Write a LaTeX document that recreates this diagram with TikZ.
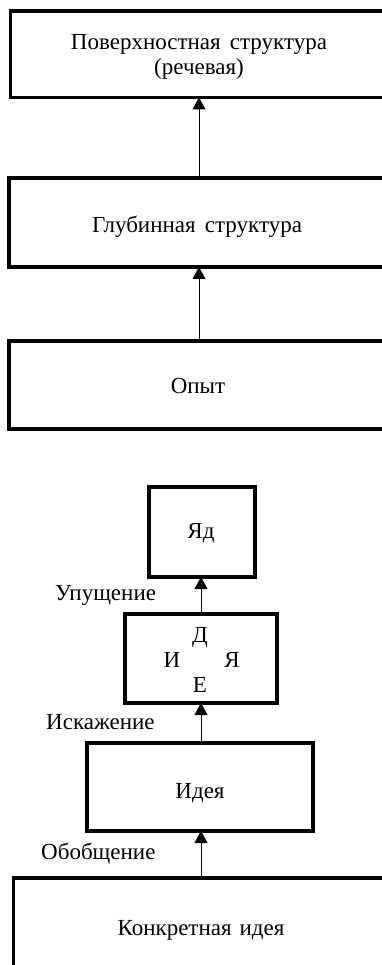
\documentclass[tikz,border=0pt]{standalone}
\usepackage{fontspec}
\setmainfont{Liberation Serif}
\usetikzlibrary{arrows.meta}
\begin{document}
\begin{tikzpicture}[x=1pt,y=-1pt,
  box/.style={draw,line width=3.2pt,rectangle,inner sep=0pt,outer sep=0pt},
  lbl/.style={anchor=base,inner sep=0pt,font=\fontsize{23}{25}\selectfont},
  link/.style={line width=1pt,-{Triangle[width=13pt,length=12pt]}}]
\path[use as bounding box] (0,0) rectangle (382,965);
\clip (0,0) rectangle (382,965);
% upper chain
\node[box,minimum width=377pt,minimum height=86.5pt] (b1) at (199,54.25) {};
\node[box,minimum width=380pt,minimum height=89pt] (b2) at (199,222.5) {};
\node[box,minimum width=380pt,minimum height=88pt] (b3) at (199,385) {};
\node[lbl] (t1a) at (199,50) {Поверхностная\hspace{0.15em} структура};
\node[lbl] (t1b) at (199,75) {(речевая)};
\node[lbl] (t2) at (197,233) {Глубинная\hspace{0.15em} структура};
\node[lbl] (t3) at (198,393) {Опыт};
\draw[link] (b3.north) -- (b3.north |- b2.south);
\draw[link] (b2.north) -- (b2.north |- b1.south);
% lower chain
\node[box,minimum width=106pt,minimum height=90pt] (b4) at (202,532) {};
\node[box,minimum width=152pt,minimum height=89pt] (b5) at (201,658.5) {};
\node[box,minimum width=226pt,minimum height=88pt] (b6) at (200,787) {};
\node[box,minimum width=375pt,minimum height=100pt] (b7) at (201,928) {};
\node[lbl] (t4) at (201,538) {Яд};
\node[lbl] (t5d) at (200,642) {Д};
\node[lbl] (t5i) at (172,667) {И};
\node[lbl] (t5y) at (232,667) {Я};
\node[lbl] (t5e) at (200,692) {Е};
\node[lbl] (t6) at (200,798) {Идея};
\node[lbl] (t7) at (201,935) {Конкретная\hspace{0.1em} идея};
\coordinate (a4) at (201,0);
\draw[link] (b5.north -| a4) -- (b4.south -| a4);
\draw[link] (b6.north -| a4) -- (b5.south -| a4);
\draw[link] (b7.north -| a4) -- (b6.south -| a4);
\node[lbl,anchor=base west] (u) at (55,600) {Упущение};
\node[lbl,anchor=base west] (i) at (46,729) {Искажение};
\node[lbl,anchor=base west] (o) at (41,859) {Обобщение};
\end{tikzpicture}
\end{document}
